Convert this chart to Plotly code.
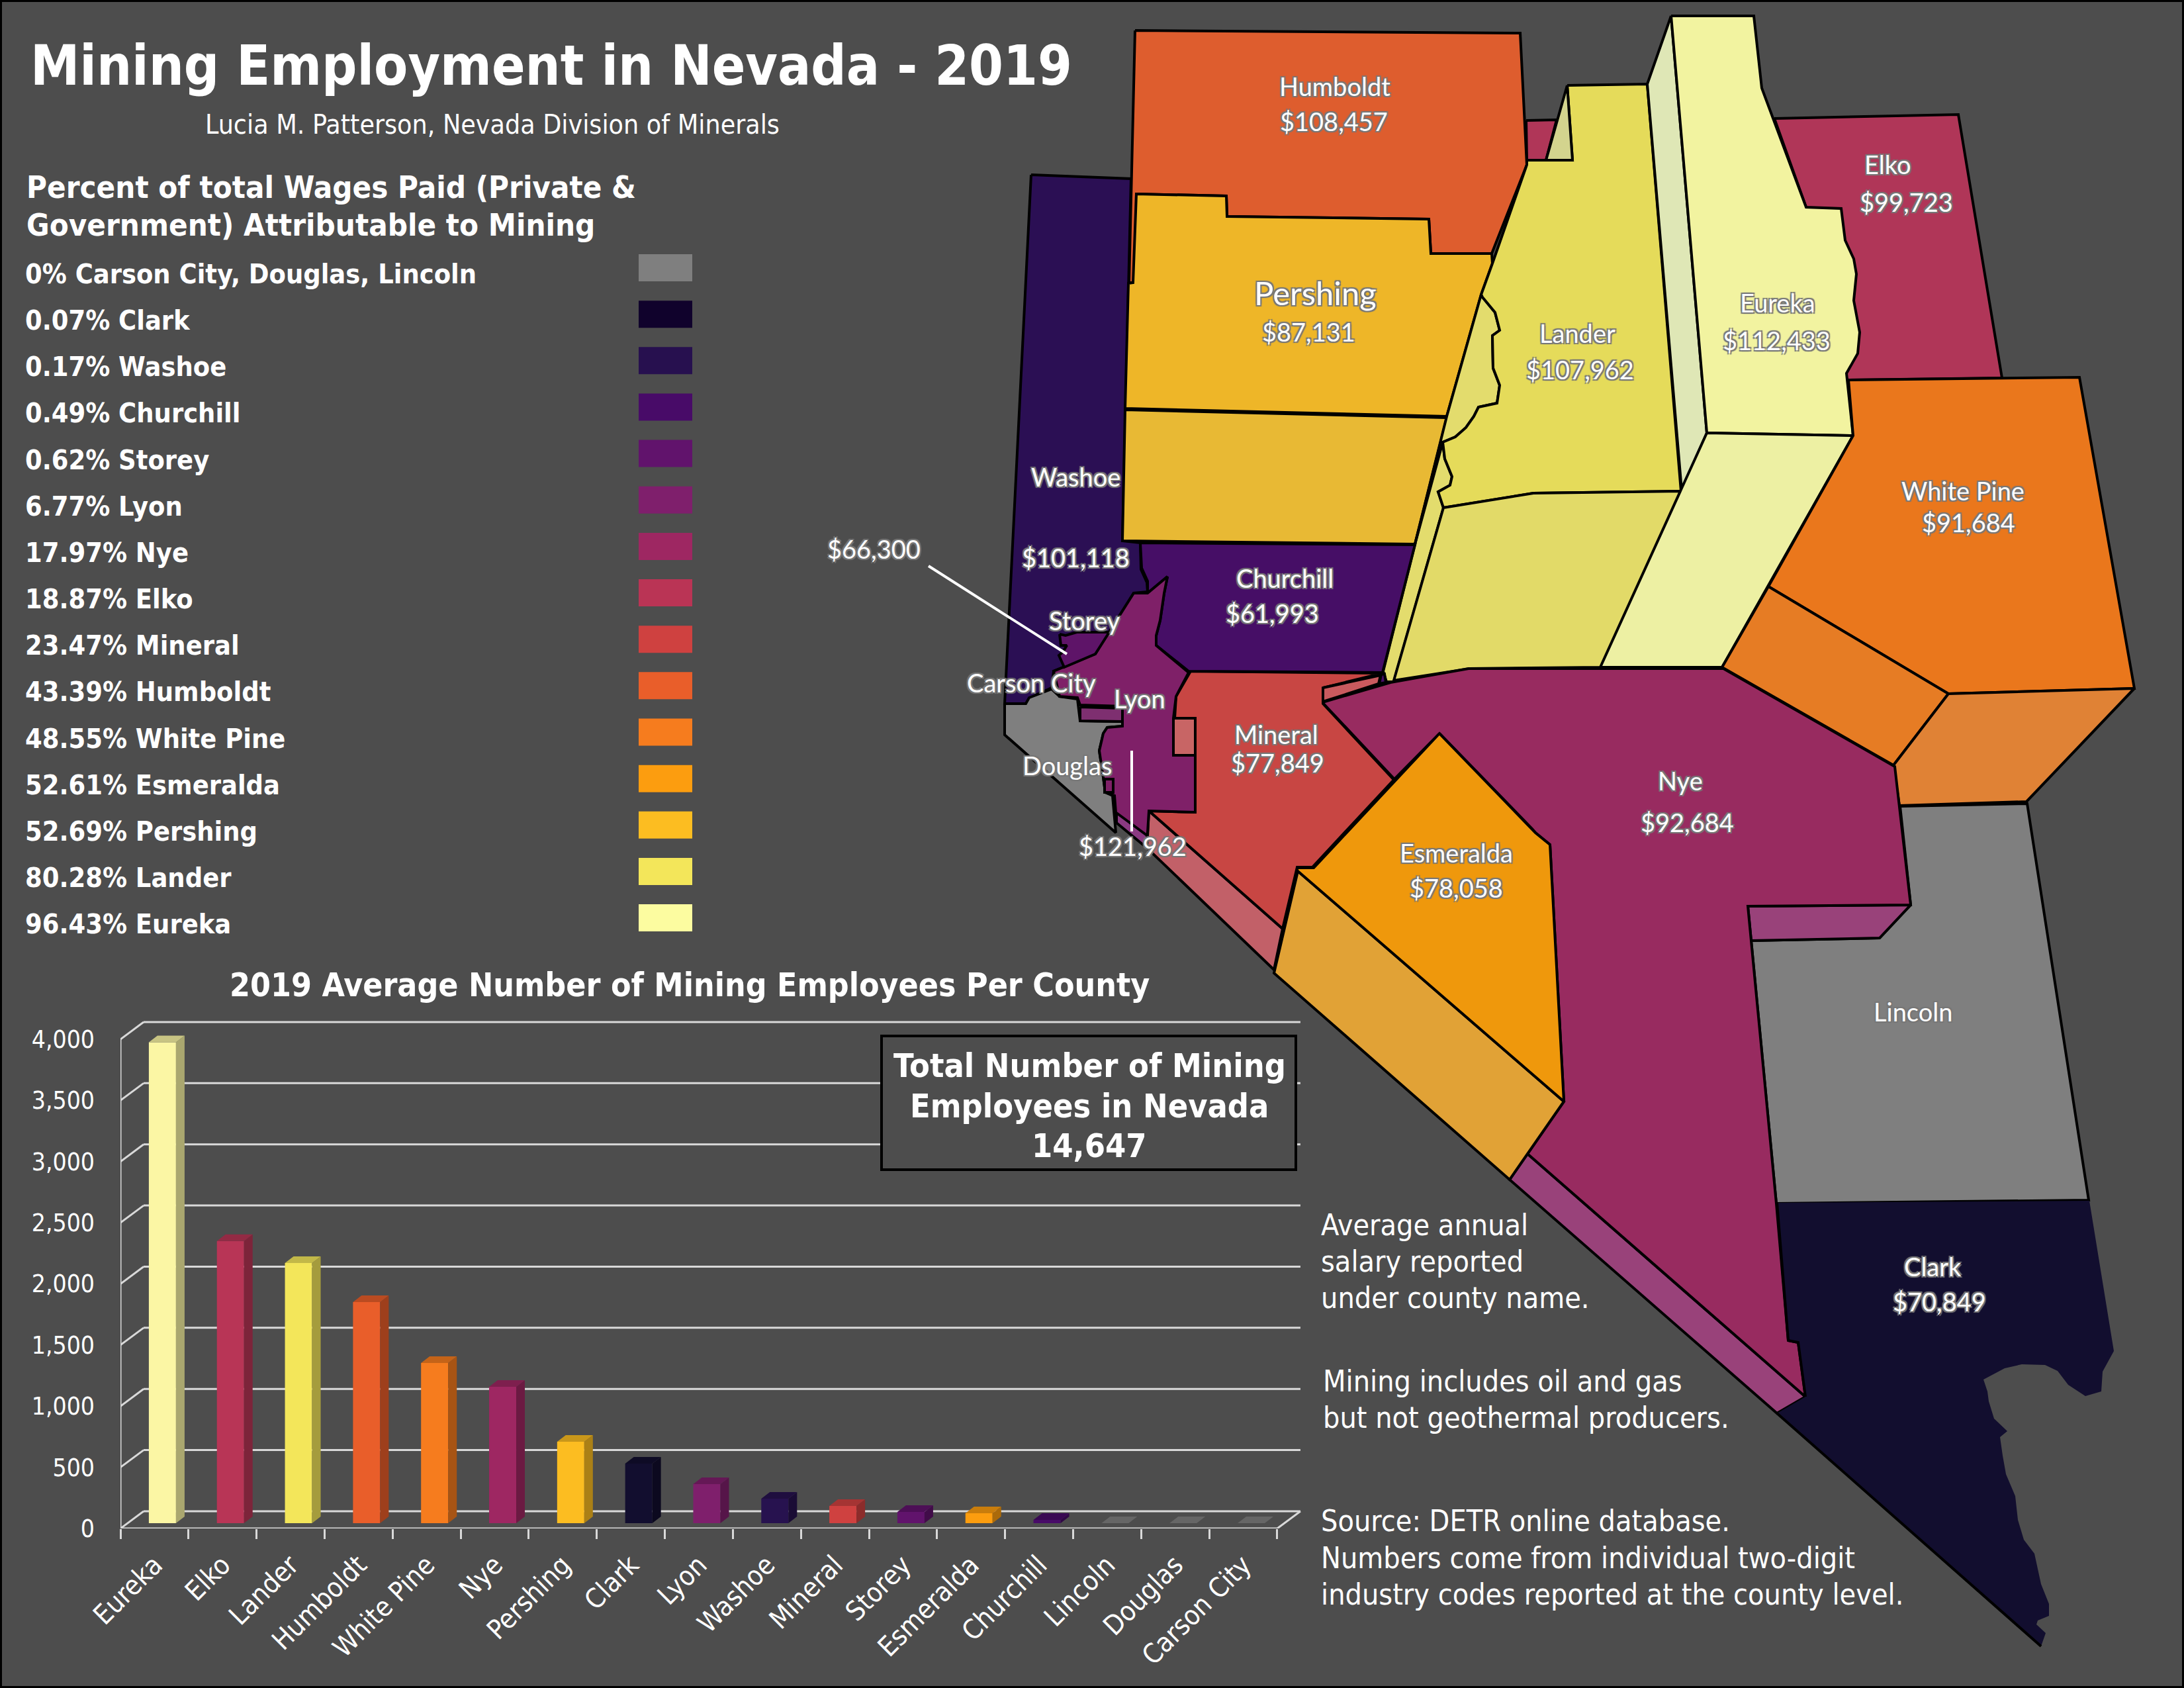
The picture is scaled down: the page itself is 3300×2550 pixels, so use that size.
import plotly.graph_objects as go

BG = "#4d4d4d"
SANS = '"DejaVu Sans Condensed", "DejaVu Sans", sans-serif'
MAPF = 'Lato, "Noto Sans", sans-serif'
GRID = "#d9d9d9"

# ---------- bar data ----------
bar_counties = ["Eureka", "Elko", "Lander", "Humboldt", "White Pine", "Nye", "Pershing", "Clark", "Lyon",
                "Washoe", "Mineral", "Storey", "Esmeralda", "Churchill", "Lincoln", "Douglas", "Carson City"]
bar_values = [3932, 2307, 2127, 1808, 1310, 1115, 666, 487, 320, 200, 141, 92, 81, 27, 0, 0, 0]
bar_colors = ["#fbf6a4", "#b83556", "#f3e65a", "#e95e2a", "#f67c1e", "#9e2762", "#fcbd21", "#120e2f", "#7f1f6c",
              "#27124f", "#cf4140", "#61136c", "#fc9d0f", "#480b68", "#7f7f7f", "#7f7f7f", "#7f7f7f"]
y_ticks = [0, 500, 1000, 1500, 2000, 2500, 3000, 3500, 4000]

# ---------- legend data ----------
legend_labels = ["0% Carson City, Douglas, Lincoln", "0.07% Clark", "0.17% Washoe", "0.49% Churchill", "0.62% Storey",
                 "6.77% Lyon", "17.97% Nye", "18.87% Elko", "23.47% Mineral", "43.39% Humboldt", "48.55% White Pine",
                 "52.61% Esmeralda", "52.69% Pershing", "80.28% Lander", "96.43% Eureka"]
legend_colors = ["#7f7f7f", "#10022c", "#27104f", "#480b68", "#61136c", "#7f1f6c", "#9e2762", "#ba3455", "#cf4140",
                 "#e95e2a", "#f67c1e", "#fc9d0f", "#fcbd21", "#f3e65a", "#fcfca0"]

# ---------- map outlines ----------
ELKO = [(2681,179),(2959,173),(3025,571),(2791,574),(2729,313)]
ELKO_STRIP = [(2306,182),(2352,181),(2336,242),(2307,242)]
WASHOE = [(1558,264),(1709,270),(1696,817),(1723,820),(1724,860),(1733,880),(1734,894),(1713,896),(1655,988),
          (1592,1014),(1589,1039),(1565,1050),(1550,1063),(1518,1063)]
HUMBOLDT = [(1715,46),(2297,50),(2307,249),(2254,383),(2162,383),(2159,331),(1854,327),(1853,296),(1717,293),
            (1716,427),(1706,427),(1709,292)]
PERSHING = [(1717,293),(1853,296),(1854,327),(2159,331),(2162,383),(2254,383),(2255,398),(2238,445),(2186,629),
            (1700,617),(1705,428),(1712,427)]
PERSHING_SIDE = [(1700,619),(2186,631),(2138,822),(1696,817)]
LANDER_SLIVER = [(2238,445),(2186,629),(2138,822),(2090,1014),(2095,1030),(2106,1030),(2181,767),(2173,743),(2191,733),
                 (2194,720),(2183,693),(2180,668),(2199,660),(2215,646),(2227,629),(2234,615),(2262,609),(2266,582),
                 (2256,556),(2255,507),(2266,499),(2259,472),(2240,449)]
LANDER_SPLIT = [(2180,668),(2138,822)]
LANDER = [(2368,129),(2489,127),(2540,742),(2317,745),(2181,767),(2173,743),(2191,733),(2194,720),(2183,693),(2180,668),
          (2199,660),(2215,646),(2227,629),(2234,615),(2262,609),(2266,582),(2256,556),(2255,507),(2266,499),(2259,472),
          (2240,449),(2238,445),(2255,398),(2307,249),(2307,242),(2376,242)]
LANDER_NOTCH = [(2368,129),(2376,242),(2336,242)]
LANDER_FRONT = [(2181,767),(2317,745),(2540,742),(2419,1008),(2221,1010),(2106,1028)]
EUREKA_WALL = [(2525,24),(2489,127),(2541,741),(2579,654)]
EUREKA = [(2525,24),(2650,24),(2662,133),(2729,313),(2782,315),(2788,363),(2801,391),(2805,414),(2801,454),(2810,502),
          (2807,534),(2790,564),(2800,658),(2579,654)]
EUREKA_FRONT = [(2579,654),(2800,658),(2602,1008),(2418,1008)]
WHITE_PINE = [(2793,574),(3142,570),(3225,1040),(2944,1048),(2672,886),(2800,658)]
WHITE_PINE_LEFT = [(2672,886),(2944,1048),(2861,1156),(2602,1008)]
WHITE_PINE_RIGHT = [(2944,1048),(3225,1040),(3062,1211),(2870,1217),(2861,1156)]
LINCOLN = [(2871,1218),(3063,1214),(3156,1813),(2684,1818),(2646,1421),(2840,1417),(2887,1367)]
CLARK = [(2685,1817),(3157,1814),(3194,2041),(3177,2072),(3175,2102),(3151,2109),(3125,2092),(3109,2071),(3090,2062),
         (3055,2061),(3029,2067),(2997,2084),(3003,2102),(3005,2117),(3013,2143),(3033,2162),(3022,2171),(3026,2199),
         (3031,2227),(3045,2260),(3049,2296),(3058,2326),(3074,2347),(3084,2393),(3096,2423),(3096,2441),(3079,2448),
         (3077,2454),(3091,2467),(3084,2487),(2685,2135),(2728,2110),(2717,2028),(2702,2025)]
CLARK_EDGE = [(3084,2487),(2685,2135)]
NYE_STEP = [(2641,1369),(2887,1367),(2840,1417),(2646,1421)]
NYE_STRIP = [(2308,1743),(2281,1782),(2685,2135),(2728,2110)]
NYE = [(1998,1061),(2101,1031),(2219,1010),(2604,1010),(2863,1158),(2887,1367),(2641,1369),(2646,1421),(2684,1818),
       (2702,2025),(2717,2028),(2728,2110),(2308,1743),(2363,1664),(2342,1276),(2320,1258),(2315,1252),(2175,1108),(2107,1177)]
ESMERALDA = [(2175,1108),(2315,1252),(2320,1258),(2342,1276),(2363,1664),(1961,1316),(1958,1311),(1985,1311)]
ESMERALDA_SIDE = [(1961,1316),(2363,1664),(2281,1782),(1925,1470)]
MINERAL_SIDE = [(1736,1225),(1938,1403),(1925,1465),(1733,1281)]
MINERAL = [(1799,1014),(2089,1017),(1999,1039),(1999,1063),(2106,1178),(1983,1310),(1960,1310),(1938,1403),(1736,1225),
           (1806,1227),(1806,1085),(1775,1085),(1777,1052)]
MINERAL_STRIP = [(1999,1039),(2086,1020),(2083,1033),(1999,1060)]
MINERAL_RECT = [(1773,1085),(1806,1085),(1806,1141),(1773,1141)]
CHURCHILL = [(1723,820),(2138,823),(2089,1016),(1796,1014),(1747,975),(1747,960),(1753,937),(1759,896),(1764,871),
             (1734,896),(1734,878),(1725,858)]
CHURCHILL_BIT = [(2087,1019),(2092,1018),(2094,1031),(2084,1033)]
DOUGLAS = [(1518,1063),(1550,1063),(1555,1054),(1589,1041),(1601,1052),(1628,1056),(1632,1089),(1696,1090),(1696,1097),
           (1673,1099),(1667,1108),(1661,1134),(1667,1174),(1670,1197),(1681,1202),(1686,1258),(1518,1110)]
LYON = [(1764,871),(1759,896),(1753,937),(1747,960),(1747,975),(1796,1016),(1777,1052),(1773,1085),(1773,1141),(1806,1141),
        (1806,1227),(1736,1225),(1733,1274),(1687,1241),(1684,1202),(1670,1197),(1667,1174),(1661,1134),(1667,1108),
        (1673,1099),(1696,1097),(1696,1067),(1632,1065),(1628,1054),(1601,1052),(1592,1014),(1655,988),(1696,924),
        (1713,896),(1734,896)]
LYON_TAB = [(1632,1068),(1696,1070),(1696,1090),(1632,1089)]
LYON_TIP = [(1687,1243),(1733,1281),(1733,1262),(1687,1228)]
LYON_BOX = [(1669,1177),(1682,1177),(1682,1197),(1669,1197)]
STOREY = [(1601,958),(1610,960),(1627,955),(1676,955),(1655,988),(1608,1008),(1600,990),(1606,985),(1612,975),(1603,975)]
POINTER_WEST = [(1403,855),(1612,988)]
POINTER_SOUTH = [(1710,1134),(1710,1256)]

map_faces = [
    (ELKO, "#b03658"), (ELKO_STRIP, "#b03658"), (WASHOE, "#2b0f54"), (HUMBOLDT, "#de5d2e"),
    (PERSHING, "#eeb628"), (PERSHING_SIDE, "#e8b934"), (LANDER_SLIVER, "#e3dc6d"), (LANDER, "#e5db5a"),
    (LANDER_NOTCH, "#d3d48e"), (LANDER_FRONT, "#e2da68"), (EUREKA_WALL, "#dfe7b6"), (EUREKA, "#f2f3a0"),
    (EUREKA_FRONT, "#edf0a3"), (WHITE_PINE, "#ea771c"), (WHITE_PINE_LEFT, "#e67c24"), (WHITE_PINE_RIGHT, "#e08235"),
    (LINCOLN, "#7f7f7f"), (NYE_STEP, "#99427a"), (NYE_STRIP, "#99427a"), (NYE, "#982b60"),
    (ESMERALDA_SIDE, "#e1a236"), (ESMERALDA, "#ef980c"), (MINERAL_SIDE, "#c26068"), (MINERAL, "#c84643"),
    (MINERAL_STRIP, "#c95a5e"), (MINERAL_RECT, "#c86565"), (CHURCHILL, "#460e66"), (CHURCHILL_BIT, "#460e66"),
    (DOUGLAS, "#7f7f7f"), (LYON, "#7f2068"), (LYON_TAB, "#7e2f70"), (LYON_TIP, "#8b3a82"), (LYON_BOX, "#7f2068"),
    (STOREY, "#5e1468"),
]

# ---------- map labels: text, x, y, size ----------
map_labels = [
    ("Humboldt", 2017, 130, 38), ("$108,457", 2015, 183, 38), ("Pershing", 1987, 442, 49), ("$87,131", 1977, 501, 38),
    ("Lander", 2383, 503, 38), ("$107,962", 2387, 558, 38), ("Eureka", 2686, 457, 38), ("$112,433", 2684, 514, 38),
    ("Elko", 2852, 248, 38), ("$99,723", 2880, 305, 38), ("White Pine", 2966, 741, 38), ("$91,684", 2974, 789, 38),
    ("Washoe", 1625, 720, 38), ("$101,118", 1625, 842, 38), ("$66,300", 1320, 829, 38), ("Storey", 1638, 937, 38),
    ("Churchill", 1941, 873, 38), ("$61,993", 1922, 926, 38), ("Carson City", 1558, 1031, 38), ("Lyon", 1722, 1055, 38),
    ("Douglas", 1612, 1156, 38), ("$121,962", 1711, 1278, 38), ("Mineral", 1928, 1109, 38), ("$77,849", 1930, 1152, 38),
    ("Esmeralda", 2200, 1288, 38), ("$78,058", 2200, 1341, 38), ("Nye", 2539, 1179, 38), ("$92,684", 2549, 1242, 38),
    ("Lincoln", 2890, 1528, 38), ("Clark", 2920, 1913, 38), ("$70,849", 2930, 1966, 38),
]

notes = [
    ("Average annual", 1994, 1850), ("salary reported", 1994, 1905), ("under county name.", 1994, 1960),
    ("Mining includes oil and gas", 1997, 2086), ("but not geothermal producers.", 1997, 2141),
    ("Source: DETR online database.", 1994, 2297), ("Numbers come from individual two-digit", 1994, 2353),
    ("industry codes reported at the county level.", 1994, 2408),
]

fig = go.Figure()


def xs(p, close=True):
    pts = list(p) + ([p[0]] if close else [])
    return [q[0] for q in pts]


def ys(p, close=True):
    pts = list(p) + ([p[0]] if close else [])
    return [q[1] for q in pts]


for poly, col in map_faces:
    fig.add_trace(go.Scatter(x=xs(poly), y=ys(poly), mode="lines", fill="toself", fillcolor=col,
                             line=dict(color="black", width=4), hoverinfo="skip", showlegend=False))
fig.add_trace(go.Scatter(x=xs(CLARK), y=ys(CLARK), mode="none", fill="toself", fillcolor="#120e2f",
                         hoverinfo="skip", showlegend=False))
for seg, col, w in [(CLARK_EDGE, "black", 4), (LANDER_SPLIT, "black", 4), ([(2685,1817),(2702,2025)], "black", 4),
                    ([(2702,2025),(2717,2028),(2728,2110)], "black", 4),
                    (POINTER_WEST, "white", 4), (POINTER_SOUTH, "white", 4)]:
    fig.add_trace(go.Scatter(x=xs(seg, False), y=ys(seg, False), mode="lines", line=dict(color=col, width=w),
                             hoverinfo="skip", showlegend=False))

# ---------- 3D bar chart ----------
PX_X = 102.82      # px per category
PX_Y = 0.18475     # px per employee
WALL_DX, WALL_DY = 35 / PX_X, 26 / PX_Y
BAR_OFF, BAR_BASE = 12 / PX_X, 8 / PX_Y
BAR_W = 41 / PX_X
DEPTH_X, DEPTH_Y = 13 / PX_X, 10 / PX_Y
X0, X1 = -0.5, 16.5
XMAX, YMAX = 16.9, 4216

# backdrop (subplot 2, lies under the bars)
gx, gy = [], []
for t in y_ticks:
    gx += [X0 + WALL_DX, X1 + WALL_DX, None, X0, X0 + WALL_DX, None]
    gy += [t + WALL_DY, t + WALL_DY, None, t, t + WALL_DY, None]
gx += [X0, X0, None, X0, X1, X1 + WALL_DX]
gy += [0, 4000, None, 0, 0, WALL_DY]
fig.add_trace(go.Scatter(x=gx, y=gy, mode="lines", line=dict(color=GRID, width=3), xaxis="x2", yaxis="y2",
                         hoverinfo="skip", showlegend=False))

positions = [i + BAR_OFF for i in range(len(bar_values))]
fig.add_trace(go.Bar(x=positions, y=bar_values, base=BAR_BASE, width=BAR_W, marker=dict(color=bar_colors, line=dict(width=0)),
                     xaxis="x3", yaxis="y3", hoverinfo="skip", showlegend=False))


def shade(hexcol, f):
    r, g, b = int(hexcol[1:3], 16), int(hexcol[3:5], 16), int(hexcol[5:7], 16)
    return "#%02x%02x%02x" % (int(r * f), int(g * f), int(b * f))


for p, v, c in zip(positions, bar_values, bar_colors):
    l, r = p - BAR_W / 2, p + BAR_W / 2
    b, t = BAR_BASE, BAR_BASE + v
    if v > 0:
        fig.add_trace(go.Scatter(x=[r, r + DEPTH_X, r + DEPTH_X, r, r], y=[b, b + DEPTH_Y, t + DEPTH_Y, t, b],
                                 mode="none", fill="toself", fillcolor=shade(c, 0.68), xaxis="x3", yaxis="y3",
                                 hoverinfo="skip", showlegend=False))
    top = shade(c, 0.8) if v > 0 else "#666666"
    fig.add_trace(go.Scatter(x=[l, r, r + DEPTH_X, l + DEPTH_X, l], y=[t, t, t + DEPTH_Y, t + DEPTH_Y, t],
                             mode="none", fill="toself", fillcolor=top, xaxis="x3", yaxis="y3",
                             hoverinfo="skip", showlegend=False))

ann = []


def text(x, y, s, size, anchor="left", family=SANS, shadow=None):
    f = dict(family=family, size=size, color="white")
    if shadow:
        f["shadow"] = shadow
    ann.append(dict(x=x, y=y, xref="x", yref="y", text=s, showarrow=False, xanchor=anchor, yanchor="middle",
                    font=f, align=anchor))


text(44, 99, "<b>Mining Employment in Nevada - 2019</b>", 83)
text(308, 188, "Lucia M. Patterson, Nevada Division of Minerals", 40.7)
text(38, 282, "<b>Percent of total Wages Paid (Private &amp;</b>", 47)
text(38, 339, "<b>Government) Attributable to Mining</b>", 47)
for i, lab in enumerate(legend_labels):
    text(36, 414 + i * 70.15, "<b>" + lab + "</b>", 41.1)
text(1042, 1488, "<b>2019 Average Number of Mining Employees Per County</b>", 49.5, "center")
text(1646, 1610, "<b>Total Number of Mining</b>", 50, "center")
text(1646, 1671, "<b>Employees in Nevada</b>", 50, "center")
text(1646, 1731, "<b>14,647</b>", 50, "center")
for s, x, y in notes:
    text(x, y, s, 44.5)
OUTLINE = "-2px -2px 1px #777, 2px -2px 1px #777, -2px 2px 1px #777, 2px 2px 1px #777"
for s, x, y, size in map_labels:
    text(x, y, s, size, "center", MAPF, OUTLINE)

shapes = [dict(type="rect", xref="x", yref="y", x0=965, x1=1046, y0=384 + i * 70.15, y1=425 + i * 70.15,
               fillcolor=c, line=dict(width=0)) for i, c in enumerate(legend_colors)]
shapes.append(dict(type="rect", xref="x", yref="y", x0=1332, x1=1958, y0=1565, y1=1767, fillcolor=BG,
                   line=dict(color="black", width=4)))
shapes.append(dict(type="rect", xref="x", yref="y", x0=1, x1=3299, y0=1, y1=2549, line=dict(color="black", width=4)))

xdom = [182 / 3300, (182 + (XMAX - X0) * PX_X) / 3300]
ydom = [1 - 2309 / 2550, 1 - (2309 - YMAX * PX_Y) / 2550]
hidden = dict(visible=False, fixedrange=True)
fig.update_layout(
    width=3300, height=2550, margin=dict(l=0, r=0, t=0, b=0, autoexpand=False), paper_bgcolor=BG,
    plot_bgcolor="rgba(0,0,0,0)",
    barmode="overlay", showlegend=False, annotations=ann, shapes=shapes,
    font=dict(family=SANS, color="white"),
    xaxis=dict(range=[0, 3300], domain=[0, 1], **hidden),
    yaxis=dict(range=[2550, 0], domain=[0, 1], **hidden),
    xaxis2=dict(range=[X0, XMAX], domain=xdom, anchor="y2", **hidden),
    yaxis2=dict(range=[0, YMAX], domain=ydom, anchor="x2", **hidden),
    xaxis3=dict(range=[X0, XMAX], domain=xdom, anchor="y3", fixedrange=True, showgrid=False, zeroline=False, showline=False,
                tickmode="array", tickvals=list(range(17)), ticktext=bar_counties, tickangle=-45, ticks="",
                ticklabelstandoff=22, tickfont=dict(family=SANS, size=41, color="white"),
                minor=dict(tickmode="array", tickvals=[i - 0.5 for i in range(18)], ticks="outside", ticklen=15,
                           tickwidth=3, tickcolor=GRID, showgrid=False)),
    yaxis3=dict(range=[0, YMAX], domain=ydom, anchor="x3", fixedrange=True, showgrid=False, zeroline=False, showline=False,
                tickmode="array", tickvals=y_ticks, tickformat=",", ticks="", ticklabelstandoff=38,
                tickfont=dict(family=SANS, size=37, color="white")),
)

fig.write_html("out.html", config={"displayModeBar": False},
               post_script="document.body.style.margin='0';document.body.style.overflow='hidden';")
